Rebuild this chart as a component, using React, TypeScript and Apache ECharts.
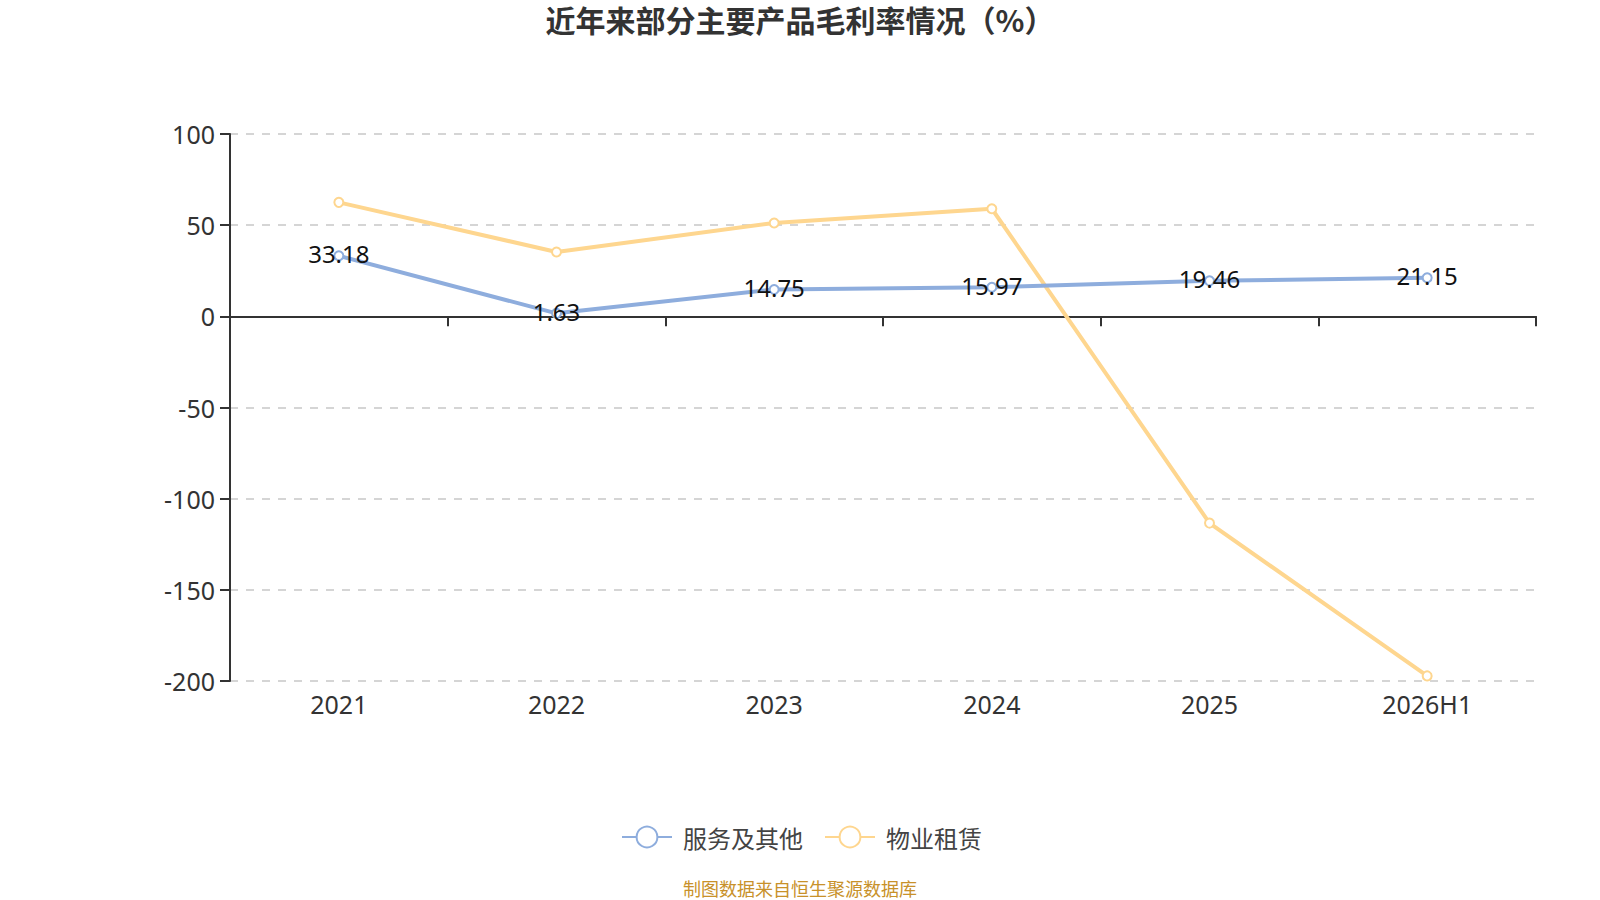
import React, { useEffect, useRef } from "react";
import * as echarts from "echarts";

const categories = ["2021", "2022", "2023", "2024", "2025", "2026H1"];
const serviceName = "服务及其他";
const rentName = "物业租赁";
const serviceValues = [33.18, 1.63, 14.75, 15.97, 19.46, 21.15];
const rentValues = [62.5, 35.3, 51.2, 59.0, -113.4, -197.2];
const yTicks = { min: -200, max: 100, interval: 50 };
const titleText = "近年来部分主要产品毛利率情况（%）";
const sourceText = "制图数据来自恒生聚源数据库";

const FONT = '"Noto Sans", "Noto Sans CJK SC", sans-serif';
const CJK = '"Noto Sans CJK SC", sans-serif';
const BLUE = "#8eaddd";
const ORANGE = "#fed68f";

export default function App() {
  const ref = useRef<HTMLDivElement>(null);
  useEffect(() => {
    if (!ref.current) return;
    const chart = echarts.init(ref.current, undefined, { renderer: "svg" });
    chart.setOption({
      animation: false,
      backgroundColor: "#ffffff",
      textStyle: { fontFamily: FONT },
      title: {
        text: titleText,
        left: "center",
        top: 4,
        padding: 0,
        textStyle: { fontSize: 30, fontWeight: "bold", color: "#333333", fontFamily: CJK },
      },
      graphic: [
        {
          type: "text",
          left: "center",
          top: 879,
          style: {
            text: sourceText,
            fontSize: 18,
            fill: "#c8912a",
            fontFamily: CJK,
          },
        },
      ],
      legend: {
        left: 616,
        top: 820,
        itemWidth: 50,
        itemHeight: 26,
        itemGap: 21,
        textStyle: { fontSize: 24, color: "#444444", fontFamily: CJK, padding: [0, 0, 0, 6] },
        data: [serviceName, rentName],
      },
      grid: { left: 230, right: 64, top: 134, bottom: 219, containLabel: false },
      xAxis: [
        {
          type: "category",
          data: categories,
          position: "bottom",
          axisLine: { show: false, onZero: false },
          axisTick: { show: false },
          axisLabel: { fontSize: 25, color: "#333333", margin: 10 },
        },
        {
          type: "category",
          data: categories,
          position: "bottom",
          axisLine: { show: true, onZero: true, lineStyle: { color: "#333333", width: 2 } },
          axisTick: { show: true, length: 10, lineStyle: { color: "#333333", width: 2 } },
          axisLabel: { show: false },
          splitLine: { show: false },
        },
      ],
      yAxis: {
        type: "value",
        min: yTicks.min,
        max: yTicks.max,
        interval: yTicks.interval,
        axisLine: { show: true, lineStyle: { color: "#333333", width: 2 } },
        axisTick: { show: true, length: 10, lineStyle: { color: "#333333", width: 2 } },
        axisLabel: { fontSize: 25, color: "#333333", margin: 15 },
        splitLine: { show: true, lineStyle: { type: [8, 8], color: "#c8c8c8", width: 1.5 } },
      },
      series: [
        {
          name: serviceName,
          type: "line",
          data: serviceValues,
          symbol: "emptyCircle",
          symbolSize: 9,
          itemStyle: { color: BLUE, borderWidth: 1.5 },
          lineStyle: { color: BLUE, width: 4 },
          label: {
            show: true,
            position: "inside",
            fontSize: 24,
            color: "#111111",
            offset: [0, -2],
          },
          z: 3,
        },
        {
          name: rentName,
          type: "line",
          data: rentValues,
          symbol: "emptyCircle",
          symbolSize: 9,
          itemStyle: { color: ORANGE, borderWidth: 1.5 },
          lineStyle: { color: ORANGE, width: 4 },
          label: { show: false },
          z: 2,
        },
      ],
    });
    return () => chart.dispose();
  }, []);
  return (
    <div
      ref={ref}
      style={{ position: "fixed", left: 0, top: 0, width: 1600, height: 900, background: "#fff" }}
    />
  );
}
